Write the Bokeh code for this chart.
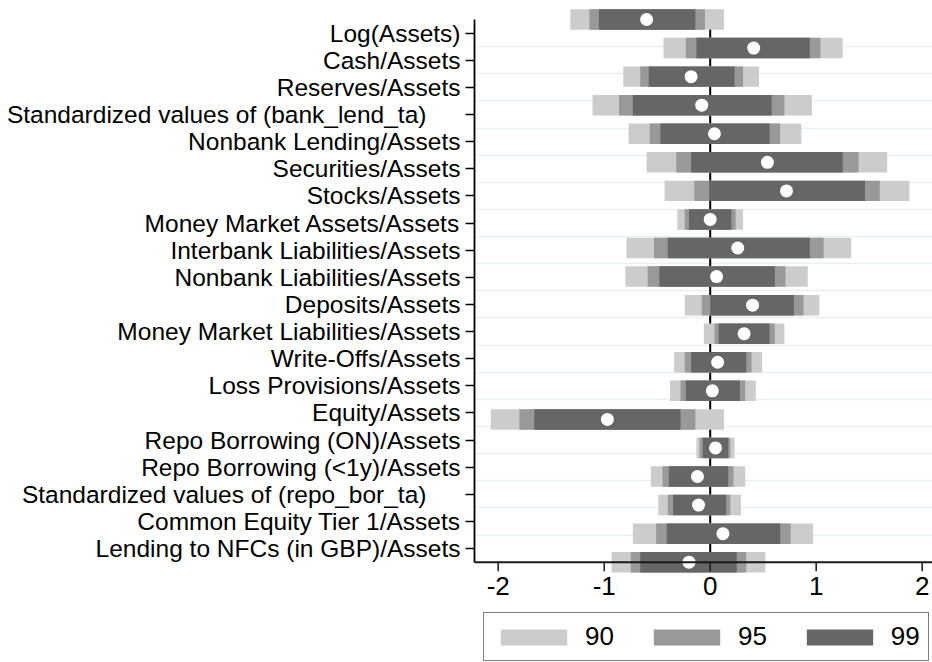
import numpy as np
from bokeh.plotting import figure
from bokeh.models import FixedTicker, Legend, LegendItem, Range1d
from bokeh.core.properties import value
from bokeh.embed import file_html
from bokeh.resources import INLINE

PAD = "\u00a0" * 5
labels = ["Log(Assets)", "Cash/Assets", "Reserves/Assets",
          "Standardized values of (bank_lend_ta)" + PAD,
          "Nonbank Lending/Assets", "Securities/Assets", "Stocks/Assets",
          "Money Market Assets/Assets", "Interbank Liabilities/Assets",
          "Nonbank Liabilities/Assets", "Deposits/Assets",
          "Money Market Liabilities/Assets", "Write-Offs/Assets",
          "Loss Provisions/Assets", "Equity/Assets", "Repo Borrowing (ON)/Assets",
          "Repo Borrowing (<1y)/Assets",
          "Standardized values of (repo_bor_ta)" + PAD,
          "Common Equity Tier 1/Assets", "Lending to NFCs (in GBP)/Assets"]
coef = [-0.60, 0.41, -0.18, -0.08, 0.04, 0.54, 0.72, 0.00, 0.26, 0.06,
        0.40, 0.32, 0.07, 0.02, -0.97, 0.05, -0.12, -0.11, 0.12, -0.20]
lo90 = [-1.32, -0.44, -0.82, -1.11, -0.77, -0.60, -0.43, -0.31, -0.79, -0.80,
        -0.24, -0.06, -0.34, -0.38, -2.07, -0.13, -0.56, -0.49, -0.73, -0.93]
hi90 = [0.13, 1.25, 0.46, 0.96, 0.86, 1.67, 1.88, 0.31, 1.33, 0.92,
        1.03, 0.70, 0.49, 0.43, 0.13, 0.23, 0.33, 0.29, 0.97, 0.52]
lo95 = [-1.14, -0.23, -0.66, -0.86, -0.57, -0.32, -0.15, -0.24, -0.53, -0.59,
        -0.08, 0.04, -0.24, -0.28, -1.80, -0.10, -0.45, -0.40, -0.51, -0.75]
hi95 = [-0.05, 1.04, 0.31, 0.70, 0.66, 1.40, 1.60, 0.24, 1.07, 0.71,
        0.88, 0.61, 0.39, 0.33, -0.14, 0.19, 0.22, 0.19, 0.76, 0.34]
lo99 = [-1.05, -0.13, -0.58, -0.73, -0.47, -0.18, -0.01, -0.20, -0.40, -0.48,
        0.00, 0.08, -0.18, -0.23, -1.66, -0.07, -0.39, -0.35, -0.41, -0.66]
hi99 = [-0.14, 0.94, 0.23, 0.58, 0.56, 1.25, 1.46, 0.20, 0.94, 0.61,
        0.79, 0.56, 0.34, 0.28, -0.28, 0.17, 0.17, 0.15, 0.66, 0.25]
xticks = [-2, -1, 0, 1, 2]
legend_labels = ["90", "95", "99"]
colors = ["#cccccc", "#999999", "#666666"]

n = len(labels)
tick_pos = list(range(n))
axis_top, axis_bot = -0.5, n - 0.5
bar_pos = list(np.linspace(axis_top, axis_bot, n))
grid_pos = [k + 0.5 for k in range(n - 1)]

FONT = "Liberation Sans"
PX = 27.135            # pixels per category unit
x0, x1 = -2.2236, 2.0972
y_top = axis_top - 19 / PX
y_bottom = y_top + 662 / PX

p = figure(frame_width=458, frame_height=662, x_range=Range1d(x0, x1),
           y_range=Range1d(y_bottom, y_top), output_backend="svg",
           toolbar_location=None, x_axis_location=None,
           min_border_left=474, min_border_right=0,
           min_border_top=0, min_border_bottom=0)
p.outline_line_color = None
p.background_fill_color = "white"
p.border_fill_color = "white"

p.xgrid.visible = False
p.ygrid.ticker = FixedTicker(ticks=grid_pos)
p.ygrid.grid_line_color = "#e8eff1"
p.ygrid.grid_line_width = 1.5

p.segment(x0=[0], x1=[0], y0=[axis_top], y1=[axis_bot], line_color="black", line_width=2)

rs = []
for lo, hi, c in zip([lo90, lo95, lo99], [hi90, hi95, hi99], colors):
    r = p.hbar(y=bar_pos, left=lo, right=hi, height=0.755, fill_color=c, line_color=None)
    rs.append(r)
p.scatter(x=coef, y=bar_pos, size=13, fill_color="white", line_color=None)

# x axis line, ticks and tick labels
p.segment(x0=[x0], x1=[x1], y0=[axis_bot], y1=[axis_bot], line_color="#1a1a1a", line_width=2)
p.segment(x0=xticks, x1=xticks, y0=[axis_bot] * len(xticks),
          y1=[axis_bot + 9 / PX] * len(xticks), line_color="#1a1a1a", line_width=1.5)
p.text(x=xticks, y=[axis_bot + 23.5 / PX] * len(xticks), text=[str(t) for t in xticks],
       text_font=value(FONT), text_font_size=value("26px"), text_color="black",
       text_align="center", text_baseline="middle")

ya = p.yaxis[0]
ya.ticker = FixedTicker(ticks=tick_pos)
ya.major_label_overrides = {i: lab for i, lab in zip(tick_pos, labels)}
ya.bounds = (axis_top, axis_bot)
ya.axis_line_color = "black"
ya.axis_line_width = 1.8
ya.major_tick_out = 9
ya.major_tick_in = 0
ya.major_tick_line_width = 1.5
ya.minor_tick_line_color = None
ya.major_label_standoff = 5
ya.major_label_text_font = FONT
ya.major_label_text_font_size = "24.5px"
ya.major_label_text_color = "black"

legend = Legend(items=[LegendItem(label=l, renderers=[r]) for l, r in zip(legend_labels, rs)],
                orientation="horizontal", location=(9, 1),
                glyph_width=83, glyph_height=20, label_standoff=10, spacing=31,
                padding=8, margin=0, border_line_color="black", border_line_width=1.2,
                label_text_font=FONT, label_text_font_size="26px",
                label_text_color="black", background_fill_color="white")
p.add_layout(legend, "center")

open("out.html", "w").write(file_html(p, INLINE))
